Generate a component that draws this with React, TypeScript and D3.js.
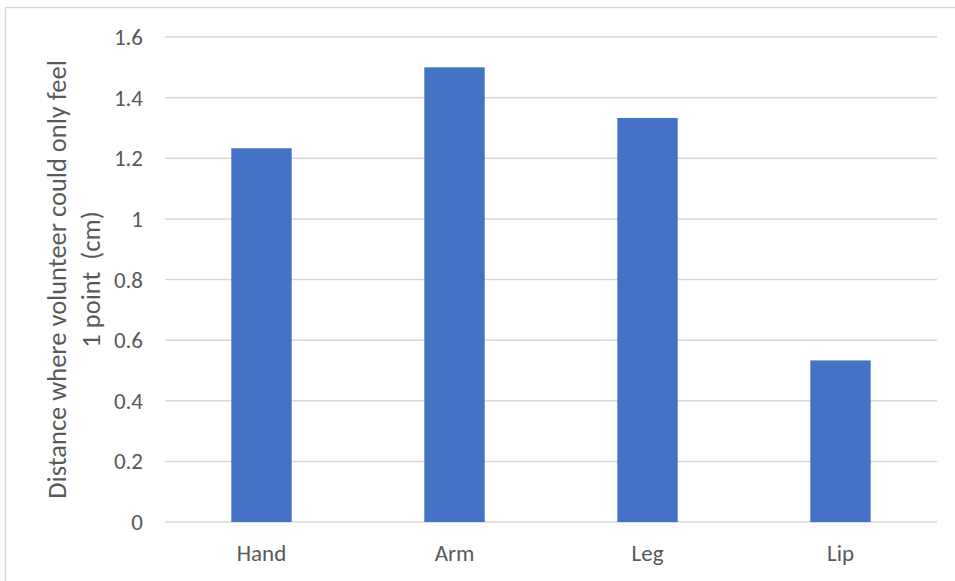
import { useEffect, useRef } from 'react';
import * as d3 from 'd3';

const categories = ['Hand', 'Arm', 'Leg', 'Lip'];
const values = [1.233, 1.5, 1.333, 0.533];
const yTicks = [0, 0.2, 0.4, 0.6, 0.8, 1, 1.2, 1.4, 1.6];
const titleLines = ['Distance where volunteer could only feel', '1 point  (cm)'];

const WIDTH = 955;
const HEIGHT = 581;
const FONT = 'Carlito, Calibri, Lato, sans-serif';
const TEXT_COLOR = '#595959';
const GRID_COLOR = '#d9d9d9';
const BAR_COLOR = '#4472c4';

export default function App() {
  const svgRef = useRef<SVGSVGElement>(null);

  useEffect(() => {
    document.body.style.margin = '0';
    if (!svgRef.current) return;
    const svg = d3.select(svgRef.current);
    svg.selectAll('*').remove();

    const margin = { top: 37, right: 18, bottom: 59, left: 165 };
    const innerW = WIDTH - margin.left - margin.right;
    const innerH = HEIGHT - margin.top - margin.bottom;

    // chart border
    svg.append('rect')
      .attr('x', 5.5)
      .attr('y', 7.5)
      .attr('width', WIDTH + 10)
      .attr('height', HEIGHT + 10)
      .attr('fill', '#fff')
      .attr('stroke', GRID_COLOR)
      .attr('stroke-width', 1.5);

    const g = svg.append('g').attr('transform', `translate(${margin.left},${margin.top})`);

    const x = d3.scaleBand()
      .domain(categories)
      .range([0, innerW])
      .paddingInner(0.687)
      .paddingOuter(0.3435);

    const y = d3.scaleLinear().domain([0, 1.6]).range([innerH, 0]);

    // gridlines
    g.append('g')
      .selectAll('line')
      .data(yTicks)
      .join('line')
      .attr('x1', 0)
      .attr('x2', innerW)
      .attr('y1', d => y(d))
      .attr('y2', d => y(d))
      .attr('stroke', GRID_COLOR)
      .attr('stroke-width', 1.5);

    // y tick labels
    g.append('g')
      .selectAll('text')
      .data(yTicks)
      .join('text')
      .attr('x', -22)
      .attr('y', d => y(d) + 8)
      .attr('text-anchor', 'end')
      .attr('font-family', FONT)
      .attr('font-size', 23)
      .attr('fill', TEXT_COLOR)
      .text(d => String(d));

    // bars
    g.append('g')
      .selectAll('rect')
      .data(values)
      .join('rect')
      .attr('x', (_, i) => x(categories[i])!)
      .attr('y', d => y(d))
      .attr('width', x.bandwidth())
      .attr('height', d => innerH - y(d))
      .attr('fill', BAR_COLOR);

    // category labels
    g.append('g')
      .selectAll('text')
      .data(categories)
      .join('text')
      .attr('x', d => x(d)! + x.bandwidth() / 2)
      .attr('y', innerH + 39)
      .attr('text-anchor', 'middle')
      .attr('font-family', FONT)
      .attr('font-size', 23)
      .attr('fill', TEXT_COLOR)
      .text(d => d);

    // y axis title
    const cy = margin.top + innerH / 2;
    svg.append('g')
      .selectAll('text')
      .data(titleLines)
      .join('text')
      .attr('transform', (_, i) => `translate(${66 + i * 34},${cy}) rotate(-90)`)
      .attr('text-anchor', 'middle')
      .attr('font-family', FONT)
      .attr('font-size', 26.5)
      .attr('fill', TEXT_COLOR)
      .style('white-space', 'pre')
      .text(d => d);
  }, []);

  return <svg ref={svgRef} width={WIDTH} height={HEIGHT} style={{ display: 'block' }} />;
}
